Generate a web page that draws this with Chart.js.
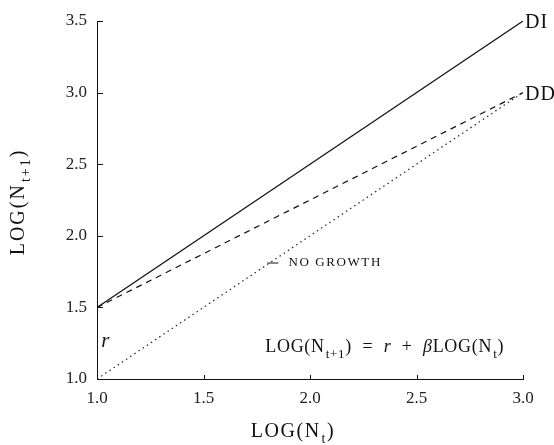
<!DOCTYPE html>
<html>
<head>
<meta charset="utf-8">
<script src="https://cdn.jsdelivr.net/npm/chart.js@4.4.0/dist/chart.umd.min.js"></script>
<style>
  html, body { margin: 0; padding: 0; background: #fff; }
  #wrap { width: 554px; height: 445px; }
</style>
</head>
<body>
<div id="wrap"><canvas id="chart" width="554" height="445"></canvas></div>
<script>
// values
const logNt = [1.0, 3.0];
const diLine = [1.5, 3.5];
const ddLine = [1.5, 3.0];
const noGrowth = [1.0, 3.0];
const xTicks = [1.0, 1.5, 2.0, 2.5, 3.0];
const yTicks = [1.0, 1.5, 2.0, 2.5, 3.0, 3.5];

const SERIF = '"Liberation Serif", "DejaVu Serif", serif';

function pts(ys) {
    let out = []
    for (var i = 0; i < logNt.length; i++) {
        out[i] = { x: logNt[i], y: ys[i] }
    }
    return out
}

// draws text with subscript parts: parts = [[text, isSub, isItalic], ...]
function drawSub(ctx, parts, x, y, size, align, spacing) {
    let widths = []
    let total = 0
    ctx.letterSpacing = (spacing || 0) + 'px'
    function setFont(p) {
        ctx.font = (p[2] ? 'italic ' : '') + (p[1] ? Math.round(size * 0.7) : size) + 'px ' + SERIF
    }
    for (var i = 0; i < parts.length; i++) {
        setFont(parts[i])
        widths[i] = ctx.measureText(parts[i][0]).width + (parts[i][1] ? 1 : 0)
        total += widths[i]
    }
    let cx = align == 'center' ? x - total / 2 : x
    ctx.textAlign = 'left'
    ctx.textBaseline = 'middle'
    for (var i = 0; i < parts.length; i++) {
        setFont(parts[i])
        ctx.fillText(parts[i][0], cx + (parts[i][1] ? 1 : 0), parts[i][1] ? y + size * 0.38 : y)
        cx += widths[i]
    }
    ctx.letterSpacing = '0px'
}

const annotations = {
    id: 'annotations',
    afterDraw(chart) {
        const ctx = chart.ctx
        const xs = chart.scales.x
        const ys = chart.scales.y
        ctx.save()
        ctx.fillStyle = '#111'
        ctx.strokeStyle = '#111'
        ctx.lineWidth = 1

        // inward tick marks
        xTicks.forEach(function (v) {
            const px = Math.round(xs.getPixelForValue(v)) + 0.5
            ctx.beginPath(); ctx.moveTo(px, ys.bottom); ctx.lineTo(px, ys.bottom - 4); ctx.stroke()
        })
        yTicks.forEach(function (v) {
            const py = Math.round(ys.getPixelForValue(v)) + 0.5
            ctx.beginPath(); ctx.moveTo(xs.left, py); ctx.lineTo(xs.left + 6, py); ctx.stroke()
        })

        // line labels
        ctx.font = '20px ' + SERIF
        ctx.textAlign = 'left'
        ctx.textBaseline = 'middle'
        ctx.letterSpacing = '1px'
        ctx.fillText('DI', xs.getPixelForValue(3.0) + 2, ys.getPixelForValue(3.5) + 2)
        ctx.fillText('DD', xs.getPixelForValue(3.0) + 2, ys.getPixelForValue(3.0) + 2)
        ctx.letterSpacing = '0px'

        // no growth arrow
        const ay = ys.getPixelForValue(1.81)
        const ax = xs.getPixelForValue(1.80)
        ctx.beginPath(); ctx.moveTo(ax, ay); ctx.lineTo(ax + 11, ay); ctx.stroke()
        ctx.font = '13px ' + SERIF
        ctx.letterSpacing = '1.6px'
        ctx.fillText('NO GROWTH', ax + 21, ay)
        ctx.letterSpacing = '0px'

        // r
        ctx.font = 'italic 21px ' + SERIF
        ctx.fillText('r', xs.getPixelForValue(1.02), ys.getPixelForValue(1.26))

        // equation
        drawSub(ctx, [['LOG(N', false], ['t+1', true], [')  =  ', false], ['r', false, true], ['  +  ', false], ['\u03B2', false, true], ['LOG(N', false], ['t', true], [')', false]],
            xs.getPixelForValue(1.79), ys.getPixelForValue(1.22), 18, 'left', 0.7)

        // axis titles
        drawSub(ctx, [['LOG(N', false], ['t', true], [')', false]], 293, 432, 20, 'center', 1.5)
        ctx.translate(19, 202)
        ctx.rotate(-Math.PI / 2)
        drawSub(ctx, [['LOG(N', false], ['t+1', true], [')', false]], 0, 0, 20, 'center', 2)
        ctx.restore()
    }
}

new Chart(document.getElementById('chart'), {
    type: 'scatter',
    data: {
        datasets: [
            {
                label: 'DI',
                data: pts(diLine),
                showLine: true,
                borderColor: '#111',
                borderWidth: 1.2,
                pointRadius: 0
            },
            {
                label: 'DD',
                data: pts(ddLine),
                showLine: true,
                borderColor: '#111',
                borderWidth: 1.2,
                borderDash: [6, 5],
                pointRadius: 0
            },
            {
                label: 'No growth',
                data: pts(noGrowth),
                showLine: true,
                borderColor: '#222',
                borderWidth: 1.2,
                borderDash: [1.5, 3.5],
                pointRadius: 0
            }
        ]
    },
    options: {
        responsive: false,
        animation: false,
        layout: { padding: { left: 0, top: 21, right: 31, bottom: 0 } },
        plugins: {
            legend: { display: false },
            tooltip: { enabled: false }
        },
        scales: {
            x: {
                type: 'linear',
                min: 1.0,
                max: 3.0,
                afterFit: function (scale) { scale.height = 66 },
                afterBuildTicks: function (scale) { scale.ticks = xTicks.map(v => ({ value: v })) },
                grid: { display: true, drawOnChartArea: false, drawTicks: false },
                border: { display: true, color: '#111', width: 1 },
                ticks: {
                    color: '#222',
                    padding: 9,
                    font: { family: SERIF, size: 17 },
                    callback: function (v) { return Number(v).toFixed(1) }
                }
            },
            y: {
                type: 'linear',
                min: 1.0,
                max: 3.5,
                afterFit: function (scale) { scale.width = 97 },
                afterBuildTicks: function (scale) { scale.ticks = yTicks.map(v => ({ value: v })) },
                grid: { display: true, drawOnChartArea: false, drawTicks: false },
                border: { display: true, color: '#111', width: 1 },
                ticks: {
                    color: '#222',
                    padding: 10,
                    font: { family: SERIF, size: 17 },
                    callback: function (v) { return Number(v).toFixed(1) }
                }
            }
        }
    },
    plugins: [annotations]
});
</script>
</body>
</html>
